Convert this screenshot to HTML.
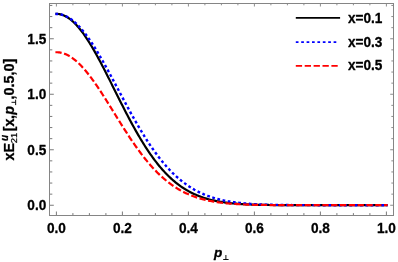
<!DOCTYPE html>
<html><head><meta charset="utf-8"><style>
html,body{margin:0;padding:0;background:#fff}
svg{display:block}
text{font-family:"Liberation Sans",sans-serif;font-weight:bold;font-size:14.2px;fill:#000;stroke:#000;stroke-width:0.3px;stroke-linejoin:round}
</style></head><body>
<svg width="398" height="262" viewBox="0 0 398 262">
<rect width="398" height="262" fill="#fff"/>
<g fill="none" stroke-width="2.2" stroke-linecap="butt" stroke-linejoin="round">
<path d="M55.41,13.93 L56.41,13.90 L57.41,13.93 L58.41,14.02 L59.41,14.16 L60.41,14.36 L61.41,14.62 L62.41,14.94 L63.41,15.31 L64.41,15.73 L65.41,16.22 L66.41,16.75 L67.42,17.35 L68.42,17.99 L69.42,18.69 L70.42,19.45 L71.42,20.25 L72.42,21.11 L73.42,22.02 L74.42,22.98 L75.42,23.98 L76.42,25.04 L77.42,26.14 L78.42,27.29 L79.42,28.49 L80.42,29.73 L81.42,31.01 L82.42,32.34 L83.42,33.71 L84.42,35.12 L85.42,36.56 L86.42,38.05 L87.42,39.57 L88.42,41.12 L89.42,42.72 L90.43,44.34 L91.43,45.99 L92.43,47.68 L93.43,49.39 L94.43,51.13 L95.43,52.90 L96.43,54.69 L97.43,56.51 L98.43,58.35 L99.43,60.21 L100.43,62.08 L101.43,63.98 L102.43,65.89 L103.43,67.82 L104.43,69.76 L105.43,71.72 L106.43,73.68 L107.43,75.66 L108.43,77.64 L109.43,79.63 L110.43,81.63 L111.43,83.63 L112.43,85.64 L113.44,87.64 L114.44,89.65 L115.44,91.66 L116.44,93.67 L117.44,95.67 L118.44,97.67 L119.44,99.67 L120.44,101.65 L121.44,103.64 L122.44,105.61 L123.44,107.58 L124.44,109.53 L125.44,111.47 L126.44,113.41 L127.44,115.33 L128.44,117.23 L129.44,119.12 L130.44,121.00 L131.44,122.86 L132.44,124.70 L133.44,126.52 L134.44,128.33 L135.44,130.11 L136.45,131.88 L137.45,133.63 L138.45,135.36 L139.45,137.06 L140.45,138.75 L141.45,140.41 L142.45,142.05 L143.45,143.66 L144.45,145.25 L145.45,146.82 L146.45,148.37 L147.45,149.89 L148.45,151.38 L149.45,152.86 L150.45,154.30 L151.45,155.72 L152.45,157.12 L153.45,158.49 L154.45,159.83 L155.45,161.15 L156.45,162.45 L157.45,163.72 L158.45,164.96 L159.46,166.18 L160.46,167.37 L161.46,168.53 L162.46,169.67 L163.46,170.79 L164.46,171.88 L165.46,172.95 L166.46,173.99 L167.46,175.00 L168.46,176.00 L169.46,176.97 L170.46,177.91 L171.46,178.83 L172.46,179.73 L173.46,180.60 L174.46,181.45 L175.46,182.28 L176.46,183.09 L177.46,183.87 L178.46,184.63 L179.46,185.37 L180.46,186.09 L181.47,186.79 L182.47,187.47 L183.47,188.13 L184.47,188.77 L185.47,189.39 L186.47,189.99 L187.47,190.58 L188.47,191.14 L189.47,191.69 L190.47,192.22 L191.47,192.73 L192.47,193.23 L193.47,193.71 L194.47,194.17 L195.47,194.62 L196.47,195.05 L197.47,195.47 L198.47,195.88 L199.47,196.27 L200.47,196.64 L201.47,197.00 L202.47,197.35 L203.47,197.69 L204.48,198.02 L205.48,198.33 L206.48,198.63 L207.48,198.92 L208.48,199.20 L209.48,199.47 L210.48,199.72 L211.48,199.97 L212.48,200.21 L213.48,200.44 L214.48,200.66 L215.48,200.87 L216.48,201.07 L217.48,201.26 L218.48,201.45 L219.48,201.63 L220.48,201.80 L221.48,201.96 L222.48,202.12 L223.48,202.27 L224.48,202.41 L225.48,202.55 L226.48,202.68 L227.49,202.81 L228.49,202.93 L229.49,203.04 L230.49,203.15 L231.49,203.25 L232.49,203.35 L233.49,203.45 L234.49,203.54 L235.49,203.63 L236.49,203.71 L237.49,203.79 L238.49,203.86 L239.49,203.93 L240.49,204.00 L241.49,204.07 L242.49,204.13 L243.49,204.19 L244.49,204.24 L245.49,204.29 L246.49,204.34 L247.49,204.39 L248.49,204.44 L249.49,204.48 L250.50,204.52 L251.50,204.56 L252.50,204.59 L253.50,204.63 L254.50,204.66 L255.50,204.69 L256.50,204.72 L257.50,204.75 L258.50,204.78 L259.50,204.80 L260.50,204.83 L261.50,204.85 L262.50,204.87 L263.50,204.89 L264.50,204.91 L265.50,204.92 L266.50,204.94 L267.50,204.96 L268.50,204.97 L269.50,204.99 L270.50,205.00 L271.50,205.01 L272.50,205.02 L273.51,205.03 L274.51,205.05 L275.51,205.06 L276.51,205.06 L277.51,205.07 L278.51,205.08 L279.51,205.09 L280.51,205.10 L281.51,205.10 L282.51,205.11 L283.51,205.12 L284.51,205.12 L285.51,205.13 L286.51,205.13 L287.51,205.14 L288.51,205.14 L289.51,205.14 L290.51,205.15 L291.51,205.15 L292.51,205.15 L293.51,205.16 L294.51,205.16 L295.51,205.16 L296.52,205.17 L297.52,205.17 L298.52,205.17 L299.52,205.17 L300.52,205.17 L301.52,205.18 L302.52,205.18 L303.52,205.18 L304.52,205.18 L305.52,205.18 L306.52,205.18 L307.52,205.18 L308.52,205.19 L309.52,205.19 L310.52,205.19 L311.52,205.19 L312.52,205.19 L313.52,205.19 L314.52,205.19 L315.52,205.19 L316.52,205.19 L317.52,205.19 L318.52,205.19 L319.53,205.19 L320.53,205.19 L321.53,205.19 L322.53,205.20 L323.53,205.20 L324.53,205.20 L325.53,205.20 L326.53,205.20 L327.53,205.20 L328.53,205.20 L329.53,205.20 L330.53,205.20 L331.53,205.20 L332.53,205.20 L333.53,205.20 L334.53,205.20 L335.53,205.20 L336.53,205.20 L337.53,205.20 L338.53,205.20 L339.53,205.20 L340.53,205.20 L341.53,205.20 L342.54,205.20 L343.54,205.20 L344.54,205.20 L345.54,205.20 L346.54,205.20 L347.54,205.20 L348.54,205.20 L349.54,205.20 L350.54,205.20 L351.54,205.20 L352.54,205.20 L353.54,205.20 L354.54,205.20 L355.54,205.20 L356.54,205.20 L357.54,205.20 L358.54,205.20 L359.54,205.20 L360.54,205.20 L361.54,205.20 L362.54,205.20 L363.54,205.20 L364.54,205.20 L365.55,205.20 L366.55,205.20 L367.55,205.20 L368.55,205.20 L369.55,205.20 L370.55,205.20 L371.55,205.20 L372.55,205.20 L373.55,205.20 L374.55,205.20 L375.55,205.20 L376.55,205.20 L377.55,205.20 L378.55,205.20 L379.55,205.20 L380.55,205.20 L381.55,205.20 L382.55,205.20 L383.55,205.20 L384.55,205.20 L385.55,205.20 L386.55,205.20 L387.56,205.20" stroke="#000"/>
<path d="M55.41,13.93 L56.41,13.90 L57.41,13.93 L58.41,14.00 L59.41,14.13 L60.41,14.31 L61.41,14.53 L62.41,14.81 L63.41,15.14 L64.41,15.51 L65.41,15.94 L66.41,16.41 L67.42,16.94 L68.42,17.51 L69.42,18.13 L70.42,18.79 L71.42,19.50 L72.42,20.26 L73.42,21.07 L74.42,21.91 L75.42,22.81 L76.42,23.74 L77.42,24.72 L78.42,25.74 L79.42,26.81 L80.42,27.91 L81.42,29.05 L82.42,30.23 L83.42,31.45 L84.42,32.71 L85.42,34.00 L86.42,35.33 L87.42,36.69 L88.42,38.08 L89.42,39.51 L90.43,40.97 L91.43,42.46 L92.43,43.97 L93.43,45.52 L94.43,47.09 L95.43,48.69 L96.43,50.31 L97.43,51.96 L98.43,53.63 L99.43,55.32 L100.43,57.03 L101.43,58.76 L102.43,60.50 L103.43,62.27 L104.43,64.05 L105.43,65.84 L106.43,67.65 L107.43,69.47 L108.43,71.30 L109.43,73.15 L110.43,75.00 L111.43,76.86 L112.43,78.72 L113.44,80.59 L114.44,82.47 L115.44,84.35 L116.44,86.23 L117.44,88.11 L118.44,90.00 L119.44,91.88 L120.44,93.76 L121.44,95.65 L122.44,97.52 L123.44,99.39 L124.44,101.26 L125.44,103.12 L126.44,104.98 L127.44,106.82 L128.44,108.66 L129.44,110.49 L130.44,112.31 L131.44,114.12 L132.44,115.91 L133.44,117.70 L134.44,119.47 L135.44,121.23 L136.45,122.97 L137.45,124.70 L138.45,126.41 L139.45,128.11 L140.45,129.79 L141.45,131.45 L142.45,133.09 L143.45,134.72 L144.45,136.33 L145.45,137.92 L146.45,139.49 L147.45,141.04 L148.45,142.57 L149.45,144.08 L150.45,145.57 L151.45,147.03 L152.45,148.48 L153.45,149.91 L154.45,151.31 L155.45,152.69 L156.45,154.05 L157.45,155.39 L158.45,156.71 L159.46,158.00 L160.46,159.27 L161.46,160.52 L162.46,161.75 L163.46,162.95 L164.46,164.13 L165.46,165.29 L166.46,166.43 L167.46,167.54 L168.46,168.63 L169.46,169.70 L170.46,170.75 L171.46,171.78 L172.46,172.78 L173.46,173.76 L174.46,174.72 L175.46,175.66 L176.46,176.57 L177.46,177.47 L178.46,178.34 L179.46,179.20 L180.46,180.03 L181.47,180.84 L182.47,181.64 L183.47,182.41 L184.47,183.16 L185.47,183.90 L186.47,184.61 L187.47,185.31 L188.47,185.99 L189.47,186.65 L190.47,187.29 L191.47,187.92 L192.47,188.52 L193.47,189.11 L194.47,189.69 L195.47,190.24 L196.47,190.78 L197.47,191.31 L198.47,191.82 L199.47,192.31 L200.47,192.79 L201.47,193.25 L202.47,193.70 L203.47,194.14 L204.48,194.56 L205.48,194.97 L206.48,195.36 L207.48,195.75 L208.48,196.12 L209.48,196.48 L210.48,196.82 L211.48,197.16 L212.48,197.48 L213.48,197.79 L214.48,198.09 L215.48,198.38 L216.48,198.67 L217.48,198.94 L218.48,199.20 L219.48,199.45 L220.48,199.69 L221.48,199.93 L222.48,200.15 L223.48,200.37 L224.48,200.58 L225.48,200.78 L226.48,200.97 L227.49,201.16 L228.49,201.34 L229.49,201.51 L230.49,201.67 L231.49,201.83 L232.49,201.98 L233.49,202.13 L234.49,202.27 L235.49,202.41 L236.49,202.54 L237.49,202.66 L238.49,202.78 L239.49,202.89 L240.49,203.00 L241.49,203.11 L242.49,203.21 L243.49,203.30 L244.49,203.39 L245.49,203.48 L246.49,203.56 L247.49,203.64 L248.49,203.72 L249.49,203.79 L250.50,203.86 L251.50,203.93 L252.50,203.99 L253.50,204.06 L254.50,204.11 L255.50,204.17 L256.50,204.22 L257.50,204.27 L258.50,204.32 L259.50,204.37 L260.50,204.41 L261.50,204.45 L262.50,204.49 L263.50,204.53 L264.50,204.56 L265.50,204.60 L266.50,204.63 L267.50,204.66 L268.50,204.69 L269.50,204.72 L270.50,204.74 L271.50,204.77 L272.50,204.79 L273.51,204.82 L274.51,204.84 L275.51,204.86 L276.51,204.88 L277.51,204.90 L278.51,204.91 L279.51,204.93 L280.51,204.94 L281.51,204.96 L282.51,204.97 L283.51,204.99 L284.51,205.00 L285.51,205.01 L286.51,205.02 L287.51,205.03 L288.51,205.04 L289.51,205.05 L290.51,205.06 L291.51,205.07 L292.51,205.08 L293.51,205.08 L294.51,205.09 L295.51,205.10 L296.52,205.10 L297.52,205.11 L298.52,205.12 L299.52,205.12 L300.52,205.13 L301.52,205.13 L302.52,205.13 L303.52,205.14 L304.52,205.14 L305.52,205.15 L306.52,205.15 L307.52,205.15 L308.52,205.16 L309.52,205.16 L310.52,205.16 L311.52,205.16 L312.52,205.17 L313.52,205.17 L314.52,205.17 L315.52,205.17 L316.52,205.17 L317.52,205.18 L318.52,205.18 L319.53,205.18 L320.53,205.18 L321.53,205.18 L322.53,205.18 L323.53,205.18 L324.53,205.19 L325.53,205.19 L326.53,205.19 L327.53,205.19 L328.53,205.19 L329.53,205.19 L330.53,205.19 L331.53,205.19 L332.53,205.19 L333.53,205.19 L334.53,205.19 L335.53,205.19 L336.53,205.19 L337.53,205.19 L338.53,205.19 L339.53,205.20 L340.53,205.20 L341.53,205.20 L342.54,205.20 L343.54,205.20 L344.54,205.20 L345.54,205.20 L346.54,205.20 L347.54,205.20 L348.54,205.20 L349.54,205.20 L350.54,205.20 L351.54,205.20 L352.54,205.20 L353.54,205.20 L354.54,205.20 L355.54,205.20 L356.54,205.20 L357.54,205.20 L358.54,205.20 L359.54,205.20 L360.54,205.20 L361.54,205.20 L362.54,205.20 L363.54,205.20 L364.54,205.20 L365.55,205.20 L366.55,205.20 L367.55,205.20 L368.55,205.20 L369.55,205.20 L370.55,205.20 L371.55,205.20 L372.55,205.20 L373.55,205.20 L374.55,205.20 L375.55,205.20 L376.55,205.20 L377.55,205.20 L378.55,205.20 L379.55,205.20 L380.55,205.20 L381.55,205.20 L382.55,205.20 L383.55,205.20 L384.55,205.20 L385.55,205.20 L386.55,205.20 L387.56,205.20" stroke="#0000ff" stroke-width="2.4" stroke-dasharray="2.75 2.55"/>
<path d="M55.41,52.26 L56.41,52.24 L57.41,52.27 L58.41,52.34 L59.41,52.45 L60.41,52.61 L61.41,52.82 L62.41,53.08 L63.41,53.38 L64.41,53.72 L65.41,54.11 L66.41,54.55 L67.42,55.03 L68.42,55.55 L69.42,56.12 L70.42,56.73 L71.42,57.38 L72.42,58.07 L73.42,58.81 L74.42,59.58 L75.42,60.40 L76.42,61.25 L77.42,62.15 L78.42,63.08 L79.42,64.04 L80.42,65.05 L81.42,66.08 L82.42,67.16 L83.42,68.26 L84.42,69.40 L85.42,70.57 L86.42,71.77 L87.42,73.00 L88.42,74.26 L89.42,75.54 L90.43,76.85 L91.43,78.19 L92.43,79.55 L93.43,80.93 L94.43,82.34 L95.43,83.76 L96.43,85.21 L97.43,86.68 L98.43,88.16 L99.43,89.66 L100.43,91.17 L101.43,92.70 L102.43,94.24 L103.43,95.80 L104.43,97.36 L105.43,98.94 L106.43,100.52 L107.43,102.11 L108.43,103.71 L109.43,105.32 L110.43,106.92 L111.43,108.53 L112.43,110.15 L113.44,111.76 L114.44,113.38 L115.44,114.99 L116.44,116.61 L117.44,118.22 L118.44,119.83 L119.44,121.43 L120.44,123.03 L121.44,124.62 L122.44,126.21 L123.44,127.78 L124.44,129.35 L125.44,130.91 L126.44,132.46 L127.44,134.00 L128.44,135.53 L129.44,137.04 L130.44,138.55 L131.44,140.04 L132.44,141.51 L133.44,142.97 L134.44,144.42 L135.44,145.85 L136.45,147.26 L137.45,148.66 L138.45,150.04 L139.45,151.40 L140.45,152.75 L141.45,154.08 L142.45,155.39 L143.45,156.68 L144.45,157.95 L145.45,159.20 L146.45,160.43 L147.45,161.64 L148.45,162.83 L149.45,164.01 L150.45,165.16 L151.45,166.29 L152.45,167.40 L153.45,168.49 L154.45,169.56 L155.45,170.61 L156.45,171.64 L157.45,172.65 L158.45,173.63 L159.46,174.60 L160.46,175.55 L161.46,176.47 L162.46,177.38 L163.46,178.26 L164.46,179.12 L165.46,179.97 L166.46,180.79 L167.46,181.60 L168.46,182.38 L169.46,183.15 L170.46,183.89 L171.46,184.62 L172.46,185.33 L173.46,186.02 L174.46,186.69 L175.46,187.34 L176.46,187.98 L177.46,188.60 L178.46,189.20 L179.46,189.78 L180.46,190.35 L181.47,190.90 L182.47,191.43 L183.47,191.95 L184.47,192.45 L185.47,192.94 L186.47,193.41 L187.47,193.87 L188.47,194.31 L189.47,194.74 L190.47,195.16 L191.47,195.56 L192.47,195.95 L193.47,196.32 L194.47,196.69 L195.47,197.04 L196.47,197.37 L197.47,197.70 L198.47,198.02 L199.47,198.32 L200.47,198.61 L201.47,198.90 L202.47,199.17 L203.47,199.43 L204.48,199.68 L205.48,199.93 L206.48,200.16 L207.48,200.38 L208.48,200.60 L209.48,200.81 L210.48,201.01 L211.48,201.20 L212.48,201.38 L213.48,201.56 L214.48,201.73 L215.48,201.89 L216.48,202.05 L217.48,202.20 L218.48,202.34 L219.48,202.48 L220.48,202.61 L221.48,202.74 L222.48,202.86 L223.48,202.97 L224.48,203.08 L225.48,203.19 L226.48,203.29 L227.49,203.39 L228.49,203.48 L229.49,203.57 L230.49,203.65 L231.49,203.73 L232.49,203.81 L233.49,203.88 L234.49,203.95 L235.49,204.01 L236.49,204.08 L237.49,204.14 L238.49,204.19 L239.49,204.25 L240.49,204.30 L241.49,204.35 L242.49,204.39 L243.49,204.44 L244.49,204.48 L245.49,204.52 L246.49,204.56 L247.49,204.60 L248.49,204.63 L249.49,204.66 L250.50,204.69 L251.50,204.72 L252.50,204.75 L253.50,204.78 L254.50,204.80 L255.50,204.82 L256.50,204.85 L257.50,204.87 L258.50,204.89 L259.50,204.90 L260.50,204.92 L261.50,204.94 L262.50,204.95 L263.50,204.97 L264.50,204.98 L265.50,205.00 L266.50,205.01 L267.50,205.02 L268.50,205.03 L269.50,205.04 L270.50,205.05 L271.50,205.06 L272.50,205.07 L273.51,205.08 L274.51,205.09 L275.51,205.09 L276.51,205.10 L277.51,205.11 L278.51,205.11 L279.51,205.12 L280.51,205.12 L281.51,205.13 L282.51,205.13 L283.51,205.14 L284.51,205.14 L285.51,205.15 L286.51,205.15 L287.51,205.15 L288.51,205.16 L289.51,205.16 L290.51,205.16 L291.51,205.16 L292.51,205.17 L293.51,205.17 L294.51,205.17 L295.51,205.17 L296.52,205.18 L297.52,205.18 L298.52,205.18 L299.52,205.18 L300.52,205.18 L301.52,205.18 L302.52,205.18 L303.52,205.19 L304.52,205.19 L305.52,205.19 L306.52,205.19 L307.52,205.19 L308.52,205.19 L309.52,205.19 L310.52,205.19 L311.52,205.19 L312.52,205.19 L313.52,205.19 L314.52,205.19 L315.52,205.19 L316.52,205.19 L317.52,205.20 L318.52,205.20 L319.53,205.20 L320.53,205.20 L321.53,205.20 L322.53,205.20 L323.53,205.20 L324.53,205.20 L325.53,205.20 L326.53,205.20 L327.53,205.20 L328.53,205.20 L329.53,205.20 L330.53,205.20 L331.53,205.20 L332.53,205.20 L333.53,205.20 L334.53,205.20 L335.53,205.20 L336.53,205.20 L337.53,205.20 L338.53,205.20 L339.53,205.20 L340.53,205.20 L341.53,205.20 L342.54,205.20 L343.54,205.20 L344.54,205.20 L345.54,205.20 L346.54,205.20 L347.54,205.20 L348.54,205.20 L349.54,205.20 L350.54,205.20 L351.54,205.20 L352.54,205.20 L353.54,205.20 L354.54,205.20 L355.54,205.20 L356.54,205.20 L357.54,205.20 L358.54,205.20 L359.54,205.20 L360.54,205.20 L361.54,205.20 L362.54,205.20 L363.54,205.20 L364.54,205.20 L365.55,205.20 L366.55,205.20 L367.55,205.20 L368.55,205.20 L369.55,205.20 L370.55,205.20 L371.55,205.20 L372.55,205.20 L373.55,205.20 L374.55,205.20 L375.55,205.20 L376.55,205.20 L377.55,205.20 L378.55,205.20 L379.55,205.20 L380.55,205.20 L381.55,205.20 L382.55,205.20 L383.55,205.20 L384.55,205.20 L385.55,205.20 L386.55,205.20 L387.56,205.20" stroke="#ff0000" stroke-dasharray="6.25 2.56"/>
</g>
<g fill="none" stroke="#404040" stroke-width="0.7"><path d="M56.40,215.5v-4.0"/><path d="M72.90,215.5v-2.4"/><path d="M89.40,215.5v-2.4"/><path d="M105.90,215.5v-2.4"/><path d="M122.40,215.5v-4.0"/><path d="M138.90,215.5v-2.4"/><path d="M155.40,215.5v-2.4"/><path d="M171.90,215.5v-2.4"/><path d="M188.40,215.5v-4.0"/><path d="M204.90,215.5v-2.4"/><path d="M221.40,215.5v-2.4"/><path d="M237.90,215.5v-2.4"/><path d="M254.40,215.5v-4.0"/><path d="M270.90,215.5v-2.4"/><path d="M287.40,215.5v-2.4"/><path d="M303.90,215.5v-2.4"/><path d="M320.40,215.5v-4.0"/><path d="M336.90,215.5v-2.4"/><path d="M353.40,215.5v-2.4"/><path d="M369.90,215.5v-2.4"/><path d="M386.40,215.5v-4.0"/><path d="M49.5,205.25h4.3"/><path d="M49.5,194.15h2.8"/><path d="M49.5,183.05h2.8"/><path d="M49.5,171.95h2.8"/><path d="M49.5,160.85h2.8"/><path d="M49.5,149.75h4.3"/><path d="M49.5,138.65h2.8"/><path d="M49.5,127.55h2.8"/><path d="M49.5,116.45h2.8"/><path d="M49.5,105.35h2.8"/><path d="M49.5,94.25h4.3"/><path d="M49.5,83.15h2.8"/><path d="M49.5,72.05h2.8"/><path d="M49.5,60.95h2.8"/><path d="M49.5,49.85h2.8"/><path d="M49.5,38.75h4.3"/><path d="M49.5,27.65h2.8"/><path d="M49.5,16.55h2.8"/><path d="M49.5,5.45h2.8"/></g>
<g fill="none" stroke="#404040" stroke-width="0.6"><path d="M56.40,3.5v3.00"/><path d="M72.90,3.5v1.80"/><path d="M89.40,3.5v1.80"/><path d="M105.90,3.5v1.80"/><path d="M122.40,3.5v3.00"/><path d="M138.90,3.5v1.80"/><path d="M155.40,3.5v1.80"/><path d="M171.90,3.5v1.80"/><path d="M188.40,3.5v3.00"/><path d="M204.90,3.5v1.80"/><path d="M221.40,3.5v1.80"/><path d="M237.90,3.5v1.80"/><path d="M254.40,3.5v3.00"/><path d="M270.90,3.5v1.80"/><path d="M287.40,3.5v1.80"/><path d="M303.90,3.5v1.80"/><path d="M320.40,3.5v3.00"/><path d="M336.90,3.5v1.80"/><path d="M353.40,3.5v1.80"/><path d="M369.90,3.5v1.80"/><path d="M386.40,3.5v3.00"/><path d="M393.5,205.25h-3.31"/><path d="M393.5,194.15h-2.16"/><path d="M393.5,183.05h-2.16"/><path d="M393.5,171.95h-2.16"/><path d="M393.5,160.85h-2.16"/><path d="M393.5,149.75h-3.31"/><path d="M393.5,138.65h-2.16"/><path d="M393.5,127.55h-2.16"/><path d="M393.5,116.45h-2.16"/><path d="M393.5,105.35h-2.16"/><path d="M393.5,94.25h-3.31"/><path d="M393.5,83.15h-2.16"/><path d="M393.5,72.05h-2.16"/><path d="M393.5,60.95h-2.16"/><path d="M393.5,49.85h-2.16"/><path d="M393.5,38.75h-3.31"/><path d="M393.5,27.65h-2.16"/><path d="M393.5,16.55h-2.16"/><path d="M393.5,5.45h-2.16"/></g>
<rect x="49.5" y="3.5" width="344.0" height="212.0" fill="none" stroke="#858585" stroke-width="1"/>
<g fill="none" stroke-width="1.7">
<path d="M295.8,17.9H340.1" stroke="#000"/>
<path d="M295.8,42.2H338" stroke="#0000ff" stroke-dasharray="2.7 2.7"/>
<path d="M295.8,65.8H340.1" stroke="#ff0000" stroke-dasharray="6.3 2.6"/>
</g>
<g style="filter:grayscale(1)">
<text transform="translate(56.4,233.4) scale(0.96,1.05)" text-anchor="middle">0.0</text><text transform="translate(122.4,233.4) scale(0.96,1.05)" text-anchor="middle">0.2</text><text transform="translate(188.4,233.4) scale(0.96,1.05)" text-anchor="middle">0.4</text><text transform="translate(254.4,233.4) scale(0.96,1.05)" text-anchor="middle">0.6</text><text transform="translate(320.4,233.4) scale(0.96,1.05)" text-anchor="middle">0.8</text><text transform="translate(386.4,233.4) scale(0.96,1.05)" text-anchor="middle">1.0</text>
<text transform="translate(46.3,210.2) scale(0.96,1.05)" text-anchor="end">0.0</text><text transform="translate(46.3,154.7) scale(0.96,1.05)" text-anchor="end">0.5</text><text transform="translate(46.3,99.2) scale(0.96,1.05)" text-anchor="end">1.0</text><text transform="translate(46.3,43.7) scale(0.96,1.05)" text-anchor="end">1.5</text>
<text transform="translate(347.9,22.5) scale(0.96,1.05)">x=0.1</text>
<text transform="translate(347.9,46.8) scale(0.96,1.05)">x=0.3</text>
<text transform="translate(347.9,70.4) scale(0.96,1.05)">x=0.5</text>
<text x="214.1" y="256.8" font-style="italic" style="font-size:13.6px">p</text>
<path d="M223.2,259.5H228.6M225.9,259.5V255" stroke="#000" stroke-width="0.95" fill="none"/>
<g transform="translate(14.2,160.6) rotate(-90)" style="font-size:14.4px">
<text x="0" y="0" style="font-size:14.4px">xE</text>
<text x="17.3" y="2.6" style="font-size:9.4px;font-weight:normal;stroke:#000;stroke-width:0.25px">21</text>
<text x="19.7" y="-5.8" style="font-size:10px" font-style="italic">u</text>
<text x="29.4" y="0" style="font-size:14.4px">[</text><text x="34.2" y="0" style="font-size:14.4px">x</text><text x="41.6" y="0" style="font-size:14.4px">,</text>
<text x="45.8" y="0" style="font-size:14.4px" font-style="italic">p</text>
<path d="M55.5,1.45H60.9M58.3,1.45V-2.7" stroke="#000" stroke-width="0.95" fill="none"/>
<text x="61" y="0" style="font-size:14.4px">,0.5,0]</text>
</g>
</g>
</svg>
</body></html>
